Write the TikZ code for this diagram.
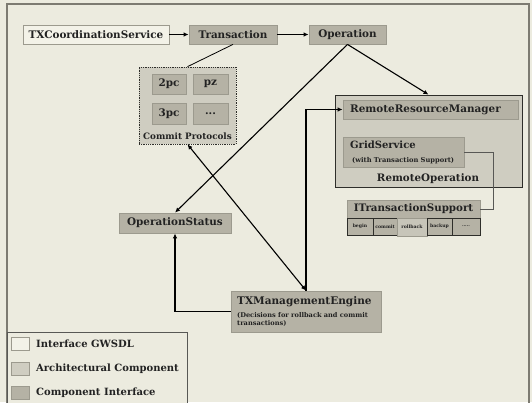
\documentclass[tikz,border=0pt]{standalone}
\usepackage{fontspec}
\setmainfont{DejaVu Serif}
\usetikzlibrary{arrows.meta}
\definecolor{bgc}{HTML}{ECEBDF}
\definecolor{gwsdl}{HTML}{F3F2E8}
\definecolor{arch}{HTML}{CFCDC1}
\definecolor{ciface}{HTML}{B5B2A5}
\definecolor{lborder}{HTML}{9C9A8E}
\definecolor{dborder}{HTML}{2E2E2A}
\definecolor{txt}{HTML}{222222}
\tikzset{
  base/.style={rectangle, inner sep=0pt, text=txt, font=\bfseries\fontsize{10.4}{12}\selectfont},
  gw/.style={base, fill=gwsdl, draw=lborder, line width=0.8pt},
  ci/.style={base, fill=ciface, draw=lborder, line width=0.8pt},
  ar/.style={base, fill=arch, draw=lborder, line width=0.8pt},
  outer/.style={rectangle, inner sep=0pt, fill=arch, draw=dborder, line width=0.8pt},
  cell/.style={rectangle, inner sep=0pt, fill=ciface, draw=dborder, line width=0.8pt, text=txt, font=\bfseries\fontsize{4.6}{5}\selectfont},
  lbl/.style={inner sep=0pt, text=txt},
  conn/.style={line width=1.1pt, draw=black},
  tip/.style={-{Latex[length=5pt,width=4.5pt]}},
  dtip/.style={{Latex[length=5pt,width=4.5pt]}-{Latex[length=5pt,width=4.5pt]}},
}
\begin{document}
\begin{tikzpicture}[x=1pt,y=-1pt]
\useasboundingbox (0,0) rectangle (532,402);
\fill[bgc] (0,0) rectangle (532,402);
\draw[color=lborder!80!black, line width=1.5pt] (7,412) -- (7,4) -- (529,4) -- (529,412);

% top row
\node[gw, minimum width=146pt, minimum height=19pt] (txcs) at (96,34.5) {TXCoordinationService};
\node[ci, minimum width=88pt, minimum height=19pt] (trans) at (233,34.5) {Transaction};
\node[ci, minimum width=77pt, minimum height=19pt] (oper) at (347.5,34.5) {Operation};

% commit protocols
\node[outer, densely dotted, line width=0.7pt, minimum width=97pt, minimum height=77pt] (commit) at (187.5,105.5) {};
\node[ci, minimum width=34pt, minimum height=20pt] (p2pc) at (169,84) {2pc};
\node[ci, minimum width=35pt, minimum height=20pt] (ppz) at (210.5,84) {pz};
\node[ci, minimum width=34pt, minimum height=21pt] (p3pc) at (169,113.5) {3pc};
\node[ci, minimum width=35pt, minimum height=21pt] (pdots) at (210.5,113.5) {...};
\node[lbl, font=\bfseries\fontsize{8.8}{10}\selectfont] (commitlbl) at (187.5,136) {Commit Protocols};

% operation status
\node[ci, minimum width=112pt, minimum height=20pt] (opstat) at (175,223) {OperationStatus};

% remote operation
\node[outer, minimum width=187pt, minimum height=92pt] (remote) at (428.5,141) {};
\node[ci, minimum width=175pt, minimum height=19pt] (rrm) at (430.5,109.5) {};
\node[lbl, anchor=west, font=\bfseries\fontsize{10.4}{12}\selectfont] (rrmt) at (350,109.5) {RemoteResourceManager};
\node[ci, minimum width=121pt, minimum height=30pt] (grid) at (403.5,152) {};
\node[lbl, anchor=west, font=\bfseries\fontsize{10}{11}\selectfont] (gridt) at (350,145) {GridService};
\node[lbl, anchor=west, font=\bfseries\fontsize{6.7}{8}\selectfont] (grids) at (352,160.5) {(with Transaction Support)};
\node[lbl, font=\bfseries\fontsize{10.3}{12}\selectfont] (remotelbl) at (428,178.5) {RemoteOperation};

% ITransactionSupport
\node[ci, minimum width=133pt, minimum height=18pt, font=\bfseries\fontsize{10.3}{12}\selectfont] (its) at (413.5,209) {ITransactionSupport};
\node[cell, minimum width=26pt, minimum height=17pt] (cbegin) at (360,226.5) {begin};
\node[cell, minimum width=24pt, minimum height=17pt] (ccommit) at (385,226.5) {commit};
\node[cell, fill=arch!70!ciface, draw=lborder, minimum width=30pt, minimum height=18pt] (croll) at (412,227) {rollback};
\node[cell, minimum width=25pt, minimum height=17pt] (cbackup) at (439.5,226.5) {backup};
\node[cell, minimum width=28pt, minimum height=17pt] (cmore) at (466,226.5) {.....};

% TXManagementEngine
\node[ci, minimum width=150pt, minimum height=41pt] (txme) at (306,311.5) {};
\node[lbl, anchor=west, font=\bfseries\fontsize{10.5}{12}\selectfont] (txmet) at (237,302) {TXManagementEngine};
\node[lbl, anchor=north west, align=left, font=\bfseries\fontsize{6.6}{8}\selectfont] (txmes) at (237,312.5) {(Decisions for rollback and commit\\transactions)};

% legend
\node[rectangle, inner sep=0pt, fill=bgc, draw=dborder!80, line width=0.8pt, minimum width=180pt, minimum height=80pt, anchor=north west] (legend) at (7,332) {};
\node[gw, minimum width=18pt, minimum height=13pt] (lg1) at (20,343.5) {};
\node[ar, minimum width=18pt, minimum height=13pt] (lg2) at (20,368.5) {};
\node[ci, minimum width=18pt, minimum height=13pt] (lg3) at (20,392.5) {};
\node[lbl, anchor=west, font=\bfseries\fontsize{10}{11}\selectfont] (lt1) at (36,343.5) {Interface GWSDL};
\node[lbl, anchor=west, font=\bfseries\fontsize{10}{11}\selectfont] (lt2) at (36,368.5) {Architectural Component};
\node[lbl, anchor=west, font=\bfseries\fontsize{10}{11}\selectfont] (lt3) at (36,392.5) {Component Interface};

% connectors
\draw[conn, tip] (txcs.east) -- (trans.west);
\draw[conn, tip] (trans.east) -- (oper.west);
\draw[line width=0.8pt] (trans.south) -- (commit.north);
\draw[conn, tip] (oper.south) -- (opstat.north);
\draw[conn, tip] (oper.south) -- (remote.north);
\draw[conn, dtip] (commit.south) -- (txme.north);
\draw[conn, tip] (txme.north) |- (rrm.west);
\draw[conn, tip] (txme.west) -| (opstat.south);
\draw[draw=dborder!80, line width=0.8pt] (grid.east) -- ++(29,0) |- (its.east);
\end{tikzpicture}
\end{document}
